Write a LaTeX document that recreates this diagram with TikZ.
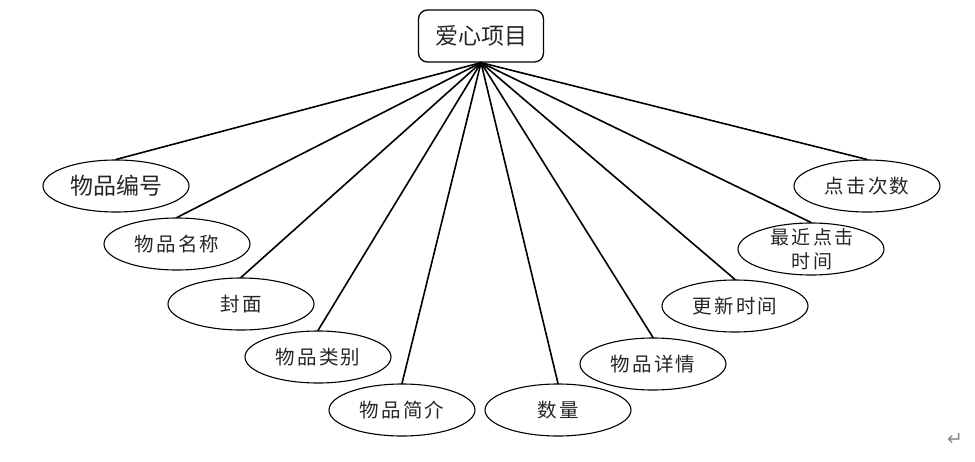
\documentclass[tikz,border=0pt]{standalone}
\usepackage{fontspec}
\newfontfamily\cjk{Noto Sans CJK SC}
\newfontfamily\cjkwide[LetterSpace=12]{Noto Sans CJK SC}
\newfontfamily\symfont{DejaVu Sans}
\usetikzlibrary{shapes.geometric}

\begin{document}
\begin{tikzpicture}[
  x=1pt, y=-1pt,
  font=\cjkwide\fontsize{19.5}{24}\selectfont,
  text=black!85,
  head/.style={
    draw,
    rounded corners=9pt,
    line width=1.3pt,
    minimum width=125pt,
    minimum height=52pt,
    inner sep=0pt,
    font=\cjk\fontsize{23}{26}\selectfont
  },
  item/.style={
    draw,
    ellipse,
    line width=1.1pt,
    minimum width=146pt,
    minimum height=52pt,
    inner sep=0pt
  },
  link/.style={line width=1.6pt, line cap=round}
]
\useasboundingbox (0,0) rectangle (975,461);

% ===== Root =====
\node[head] (top) at (481,36) {爱心项目};

% ===== Attributes =====
\node[item, font=\cjk\fontsize{23}{26}\selectfont] (code) at (116,186) {物品编号};
\node[item] (name)  at (177,244) {物品名称};
\node[item] (cover) at (241,304) {封面};
\node[item] (kind)  at (318,357) {物品类别};
\node[item] (intro) at (402,410) {物品简介};
\node[item] (qty)   at (558,410) {数量};
\node[item] (info)  at (653,364) {物品详情};
\node[item] (upd)   at (735,306) {更新时间};
\node[item] (last)  at (811,249) {};
\node[align=center, font=\cjkwide\fontsize{19}{24}\selectfont] (lastt) at ([xshift=1pt]last.center) {最近点击\\时间};
\node[item] (hits)  at (867,186) {点击次数};

% ===== Links =====
\draw[link] (top.south) -- (code.north);
\draw[link] (top.south) -- (name.north);
\draw[link] (top.south) -- (cover.north);
\draw[link] (top.south) -- (kind.north);
\draw[link] (top.south) -- (intro.north);
\draw[link] (top.south) -- (qty.north);
\draw[link] (top.south) -- (info.north);
\draw[link] (top.south) -- (upd.north);
\draw[link] (top.south) -- (last.north);
\draw[link] (top.south) -- (hits.north);

% paragraph mark
\node[text=black!45, font=\symfont\fontsize{19}{20}\selectfont] (mark) at (955,440) {↵};

\end{tikzpicture}
\end{document}
